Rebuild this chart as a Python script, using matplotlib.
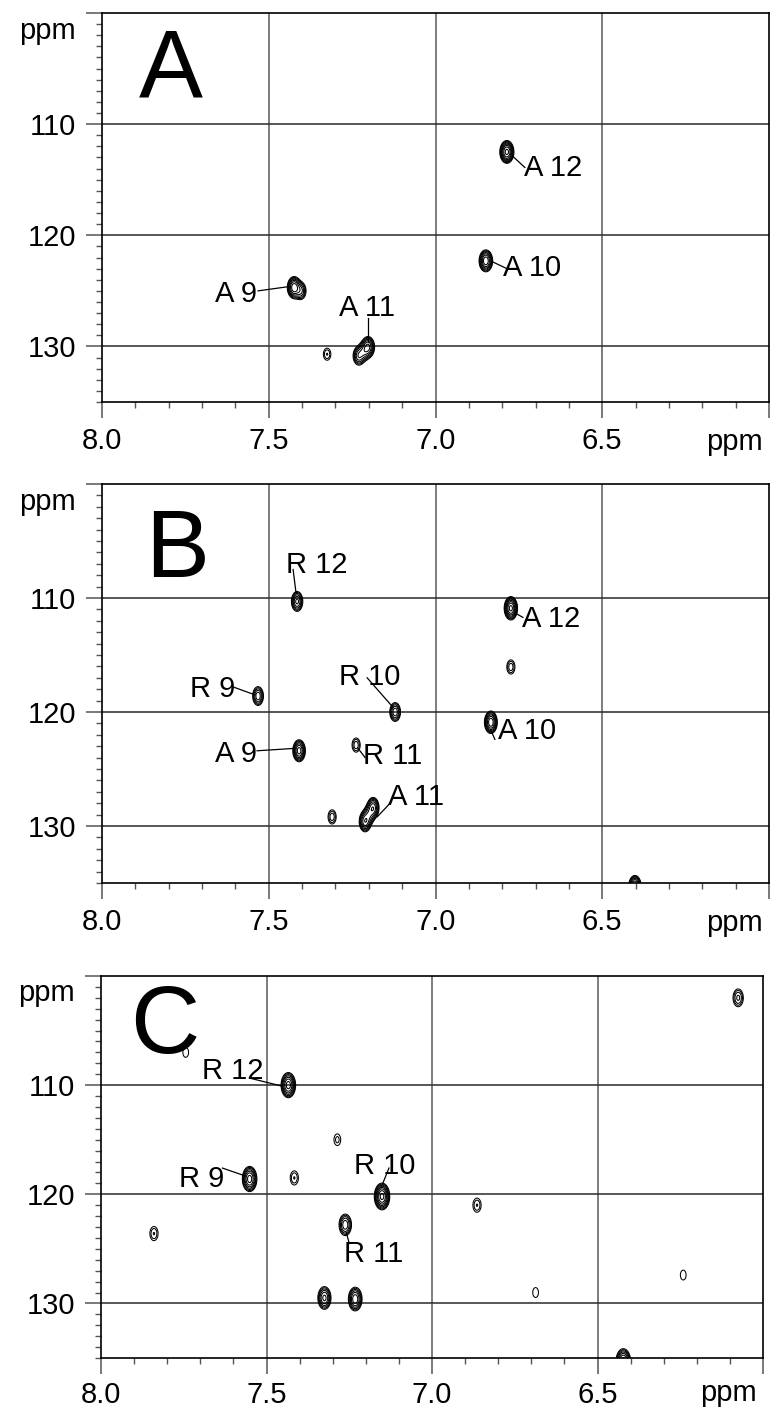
import numpy as np
import matplotlib
matplotlib.use("Agg")
import matplotlib.pyplot as plt
from matplotlib.ticker import FixedLocator, MultipleLocator

plt.rcParams['font.family'] = ['Liberation Sans', 'DejaVu Sans']

# ---- shared axis settings (1H along x, 15N along y, both in ppm) ----
x_major_vals = [8.0, 7.5, 7.0, 6.5, 6.0]
x_major_labels = ["8.0", "7.5", "7.0", "6.5", ""]
y_major_vals = [100, 110, 120, 130]
y_major_labels = ["", "110", "120", "130"]
x_grid_vals = [7.5, 7.0, 6.5]
y_grid_vals = [110, 120, 130]
panel_letters = ["A", "B", "C"]
letter_x = [7.889, 7.871, 7.913]
letter_y = [107.5, 108.2, 107.1]

# ---- panel A: cross peaks (x ppm, y ppm, relative height) ----
a_peak_x = [7.424, 7.404, 7.202, 7.215, 7.230, 7.325, 6.786, 6.849]
a_peak_y = [124.7, 125.0, 130.05, 130.45, 130.85, 130.7, 112.5, 122.3]
a_peak_amp = [10, 4, 8, 4, 5, 2.0, 12, 10]
a_label_text = ["A 9", "A 11", "A 12", "A 10"]
a_label_x = [7.535, 7.205, 6.735, 6.798]
a_label_y = [126.0, 127.3, 114.7, 123.7]
a_label_ha = ["right", "center", "left", "left"]
a_lead_x0 = [7.532, 7.202, 6.768, 6.828]
a_lead_y0 = [125.0, 127.4, 112.9, 122.4]
a_lead_x1 = [7.436, 7.202, 6.732, 6.786]
a_lead_y1 = [124.6, 129.6, 113.9, 123.0]

# ---- panel B ----
b_peak_x = [7.415, 7.532, 7.409, 7.121, 7.238, 7.187, 7.199, 7.211, 7.310,
            6.774, 6.774, 6.834, 6.402]
b_peak_y = [110.3, 118.6, 123.4, 120.0, 122.9, 128.4, 129.0, 129.6, 129.2,
            116.05, 110.9, 120.9, 135.3]
b_peak_amp = [6, 5, 9, 5, 2.5, 7, 4, 7, 2.5,
              2.5, 12, 10, 9]
b_label_text = ["R 12", "R 9", "A 9", "R 10", "R 11", "A 11", "A 12", "A 10"]
b_label_x = [7.355, 7.601, 7.535, 7.196, 7.217, 7.142, 6.741, 6.813]
b_label_y = [107.8, 118.7, 124.4, 117.6, 124.6, 128.2, 112.5, 122.4]
b_label_ha = ["center", "right", "right", "center", "left", "left", "left", "left"]
b_lead_x0 = [7.427, 7.607, 7.535, 7.205, 7.232, 7.136, 6.762, 6.834]
b_lead_y0 = [107.5, 117.8, 123.4, 117.0, 123.2, 128.0, 111.3, 121.6]
b_lead_x1 = [7.418, 7.541, 7.427, 7.127, 7.211, 7.175, 6.738, 6.822]
b_lead_y1 = [109.6, 118.5, 123.2, 119.6, 124.0, 129.2, 111.7, 122.4]

# ---- panel C ----
c_peak_x = [7.434, 7.551, 7.151, 7.262, 7.325, 7.232, 7.286, 7.416, 7.840,
            6.864, 6.687, 6.241, 6.075, 6.422, 7.744]
c_peak_y = [110.0, 118.6, 120.2, 122.8, 129.5, 129.6, 115.0, 118.5, 123.6,
            121.0, 129.0, 127.4, 102.0, 135.3, 107.0]
c_peak_amp = [9, 9, 12, 5, 6, 7, 1.6, 2.0, 2.0,
              2.0, 1.4, 1.4, 3.0, 9, 1.4]
c_label_text = ["R 12", "R 9", "R 10", "R 11"]
c_label_x = [7.602, 7.627, 7.142, 7.175]
c_label_y = [109.4, 119.3, 118.1, 126.2]
c_label_ha = ["center", "right", "center", "center"]
c_lead_x0 = [7.545, 7.633, 7.130, 7.259]
c_lead_y0 = [109.4, 117.6, 117.6, 123.5]
c_lead_x1 = [7.452, 7.566, 7.154, 7.250]
c_lead_y1 = [110.1, 118.3, 119.4, 124.5]

# axes boxes in figure fraction
panel_boxes = [
    [0.13247, 0.71469, 0.86623, 0.27608],
    [0.13247, 0.37331, 0.86623, 0.28318],
    [0.13117, 0.03620, 0.85974, 0.27111],
]
# peak line-shape widths (ppm) per panel
peak_sx = [0.0095, 0.0090, 0.0105]
peak_sy = [0.46, 0.46, 0.55]
# baseline drop (points) of the x unit label under each panel
x_unit_drop = [-34.5, -34.5, -31.0]
x_label_pad = [6.5, 6.5, 5.0]

panels = [
    (a_peak_x, a_peak_y, a_peak_amp, a_label_text, a_label_x, a_label_y, a_label_ha,
     a_lead_x0, a_lead_y0, a_lead_x1, a_lead_y1),
    (b_peak_x, b_peak_y, b_peak_amp, b_label_text, b_label_x, b_label_y, b_label_ha,
     b_lead_x0, b_lead_y0, b_lead_x1, b_lead_y1),
    (c_peak_x, c_peak_y, c_peak_amp, c_label_text, c_label_x, c_label_y, c_label_ha,
     c_lead_x0, c_lead_y0, c_lead_x1, c_lead_y1),
]

fig = plt.figure(figsize=(7.7, 14.09), dpi=100)
gx = np.linspace(6.0, 8.0, 2000)
gy = np.linspace(99.0, 136.5, 900)
GX, GY = np.meshgrid(gx, gy)
levels = 1.0 * 1.4 ** np.arange(0, 10)
FS = 21

for i, (px, py, pa, lt, lx, ly, lha, x0, y0, x1, y1) in enumerate(panels):
    ax = fig.add_axes(panel_boxes[i])
    ax.set_xlim(8.0, 6.0)
    ax.set_ylim(135.0, 100.0)

    # spectrum as a sum of 2D Gaussian cross peaks
    Z = np.zeros_like(GX)
    for x_c, y_c, amp in zip(px, py, pa):
        Z += amp * np.exp(-0.5 * ((GX - x_c) / peak_sx[i]) ** 2
                          - 0.5 * ((GY - y_c) / peak_sy[i]) ** 2)

    for v in x_grid_vals:
        ax.axvline(v, color="#5a5a5a", lw=1.1, zorder=1)
    for v in y_grid_vals:
        ax.axhline(v, color="#2a2a2a", lw=1.1, zorder=1)

    ax.contour(GX, GY, Z, levels=levels, colors="black", linewidths=0.75, zorder=3)

    # assignment labels with leader lines
    for t, tx, ty, ha in zip(lt, lx, ly, lha):
        ax.text(tx, ty, t, fontsize=FS, ha=ha, va="baseline", zorder=4)
    for xa, ya, xb, yb in zip(x0, y0, x1, y1):
        ax.plot([xa, xb], [ya, yb], color="black", lw=0.9, zorder=4)

    ax.text(letter_x[i], letter_y[i], panel_letters[i], fontsize=69,
            ha="left", va="baseline", zorder=4)

    # ticks
    ax.xaxis.set_major_locator(FixedLocator(x_major_vals))
    ax.set_xticklabels(x_major_labels)
    ax.xaxis.set_minor_locator(MultipleLocator(0.1))
    ax.yaxis.set_major_locator(FixedLocator(y_major_vals))
    ax.set_yticklabels(y_major_labels)
    ax.yaxis.set_minor_locator(MultipleLocator(1))
    ax.tick_params(which="major", direction="out", length=11.5, width=1.1,
                   color="#555555", labelsize=FS)
    ax.tick_params(which="minor", direction="out", length=4.3, width=1.0,
                   color="#555555")
    ax.tick_params(axis="x", which="major", pad=x_label_pad[i])
    ax.tick_params(axis="y", which="major", pad=7)
    for s in ax.spines.values():
        s.set_linewidth(1.2)
        s.set_color("black")

    # axis unit labels
    ax.annotate("ppm", xy=(0, 102.3), xycoords=("axes fraction", "data"),
                xytext=(-19, 0), textcoords="offset points",
                fontsize=FS, ha="right", va="baseline")
    ax.annotate("ppm", xy=(1, 0), xycoords="axes fraction",
                xytext=(-4.5, x_unit_drop[i]), textcoords="offset points",
                fontsize=FS, ha="right", va="baseline")

fig.savefig("out.png", dpi=100)
